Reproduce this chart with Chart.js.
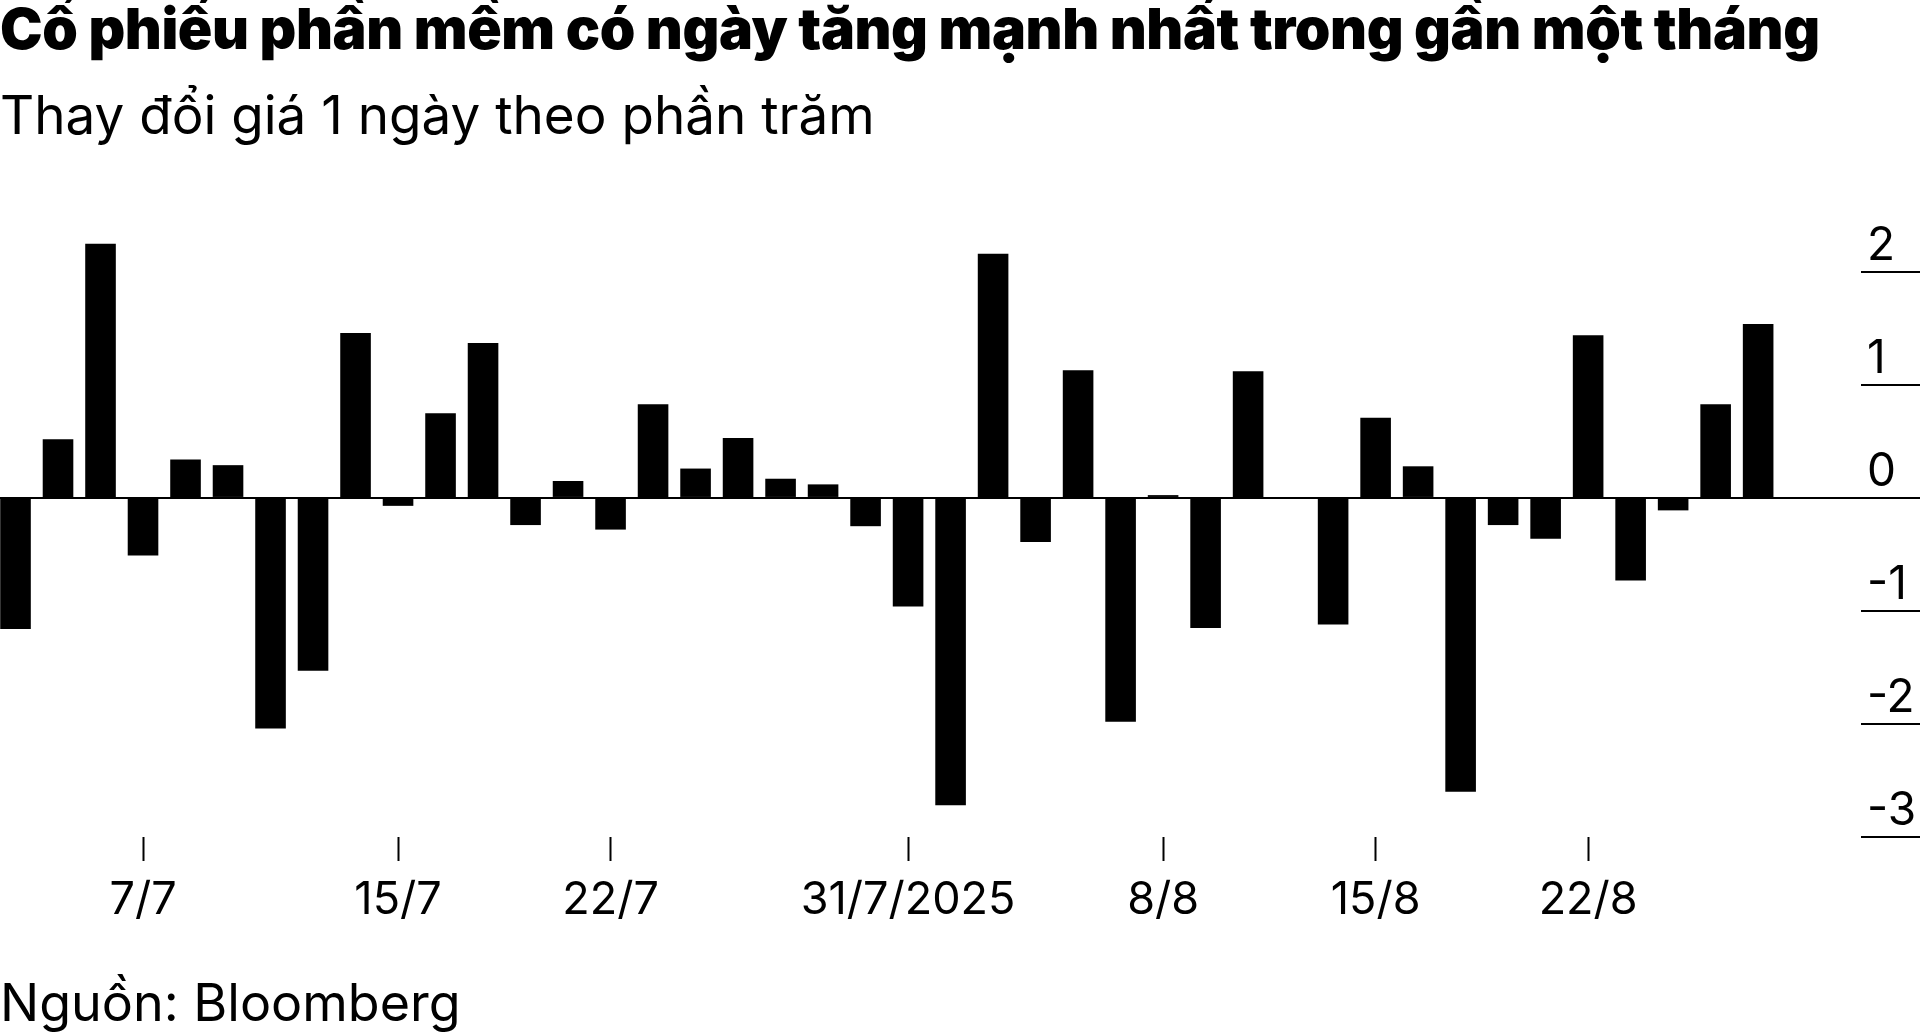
<!DOCTYPE html>
<html>
<head>
<meta charset="utf-8">
<title>Cổ phiếu phần mềm</title>
<script src="https://cdn.jsdelivr.net/npm/chart.js@4.4.1/dist/chart.umd.min.js"></script>
<style>
    html, body { margin: 0; padding: 0; background: #fff; }
    body { width: 1920px; height: 1034px; position: relative; overflow: hidden; font-family: Inter, "Noto Sans", sans-serif; color: #000; }
    .txt { position: absolute; left: 0; line-height: 1; white-space: nowrap; }
    #title { top: 0px; font-size: 57px; font-weight: 900; letter-spacing: -0.4px; }
    #subtitle { top: 89px; font-size: 53px; font-weight: 400; }
    #source { top: 977px; font-size: 52px; font-weight: 400; }
    #wrap { position: absolute; left: 0; top: 0; width: 1920px; height: 1034px; }
</style>
</head>
<body>
<div id="wrap"><canvas id="chart" width="1920" height="1034"></canvas></div>
<div class="txt" id="title">Cổ phiếu phần mềm có ngày tăng mạnh nhất trong gần một tháng</div>
<div class="txt" id="subtitle">Thay đổi giá 1 ngày theo phần trăm</div>
<div class="txt" id="source">Nguồn: Bloomberg</div>
<script>
// Trading days, 1/7 - 28/8/2025
const days = ['1/7', '2/7', '3/7', '7/7', '8/7', '9/7', '10/7', '11/7', '14/7', '15/7',
    '16/7', '17/7', '18/7', '21/7', '22/7', '23/7', '24/7', '25/7', '28/7', '29/7',
    '30/7', '31/7', '1/8', '4/8', '5/8', '6/8', '7/8', '8/8', '11/8', '12/8',
    '13/8', '14/8', '15/8', '18/8', '19/8', '20/8', '21/8', '22/8', '25/8', '26/8',
    '27/8', '28/8'];

// 1-day price change, %
const changes = [-1.16, 0.52, 2.25, -0.51, 0.34, 0.29, -2.04, -1.53, 1.46, -0.07,
    0.75, 1.37, -0.24, 0.15, -0.28, 0.83, 0.26, 0.53, 0.17, 0.12,
    -0.25, -0.96, -2.72, 2.16, -0.39, 1.13, -1.98, 0.025, -1.15, 1.12,
    0, -1.12, 0.71, 0.28, -2.6, -0.24, -0.36, 1.44, -0.73, -0.11,
    0.83, 1.54];

// x axis ticks
const tickDays = ['7/7', '15/7', '22/7', '31/7', '8/8', '15/8', '22/8'];
const tickLabels = ['7/7', '15/7', '22/7', '31/7/2025', '8/8', '15/8', '22/8'];

// y axis ticks
const yTicks = [-3, -2, -1, 0, 1, 2];

const ctx = document.getElementById('chart').getContext('2d');
new Chart(ctx, {
    type: 'bar',
    data: {
        datasets: [{
            data: changes.map((v, i) => ({ x: i, y: v })),
            backgroundColor: '#000',
            borderWidth: 0,
            categoryPercentage: 0.8,
            barPercentage: 0.9
        }]
    },
    options: {
        responsive: false,
        animation: false,
        devicePixelRatio: 1,
        layout: { padding: { top: 238, left: 0, right: 0, bottom: 0 } },
        plugins: {
            legend: { display: false },
            tooltip: { enabled: false }
        },
        scales: {
            x: {
                type: 'linear',
                offset: false,
                min: -0.365,
                max: 43.42,
                afterBuildTicks: (s) => { s.ticks = tickDays.map(d => ({ value: days.indexOf(d) })); },
                afterFit: (s) => { s.height = 197; },
                grid: { offset: false, drawOnChartArea: false, tickLength: 24, tickWidth: 2, tickColor: '#000', color: '#000' },
                border: { display: false },
                ticks: {
                    autoSkip: false,
                    maxRotation: 0,
                    padding: 12,
                    color: '#000',
                    font: { family: 'Inter', size: 45 },
                    callback: (v) => tickLabels[tickDays.indexOf(days[v])]
                }
            },
            y: {
                position: 'right',
                min: -3,
                max: 2.3,
                afterBuildTicks: (s) => { s.ticks = yTicks.map(v => ({ value: v })); },
                afterFit: (s) => { s.width = 59; },
                grid: {
                    color: (c) => (c.tick && c.tick.value === 0) ? '#000' : 'rgba(0,0,0,0)',
                    lineWidth: 2,
                    tickLength: 59,
                    tickWidth: 2,
                    tickColor: '#000'
                },
                border: { display: false },
                ticks: {
                    padding: -53,
                    labelOffset: -26,
                    color: '#000',
                    font: { family: 'Inter', size: 46 },
                    callback: (v) => String(v)
                }
            }
        }
    }
});
</script>
</body>
</html>
